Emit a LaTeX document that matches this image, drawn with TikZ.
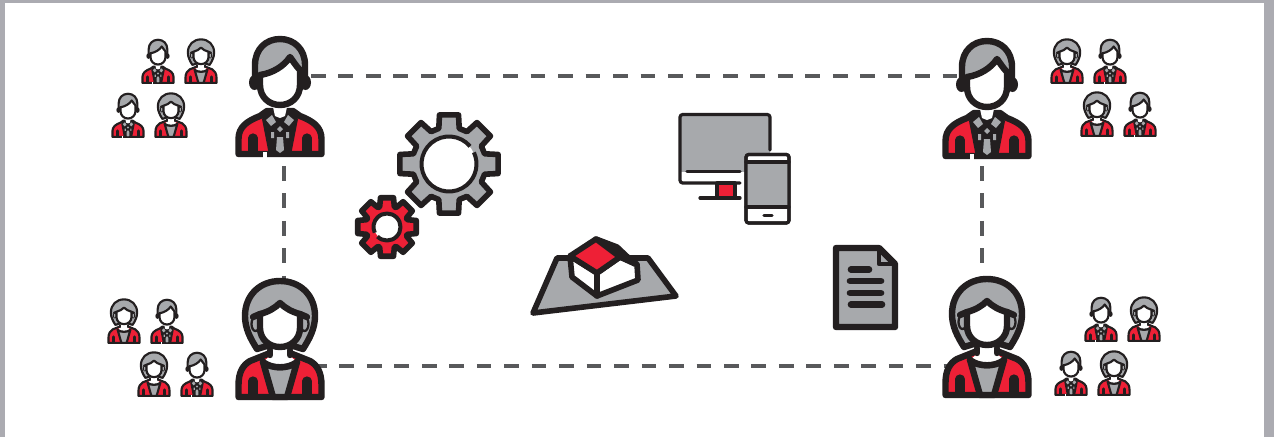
\documentclass[tikz,border=0pt]{standalone}
\usepackage{xcolor}
\definecolor{iconred}{HTML}{EE2036}
\definecolor{icongray}{HTML}{A7A9AC}
\definecolor{iconblack}{HTML}{231F20}
\definecolor{dashgray}{HTML}{58595B}
\definecolor{framegray}{HTML}{ABABB1}
\begin{document}
\begin{tikzpicture}[x=.75pt,y=.75pt,line join=round,
    iconline/.style={draw=iconblack,line cap=round},
    bigicon/.style={line width=4.8pt},
    smallicon/.style={scale=.375,line width=1.6pt},
    linkline/.style={draw=dashgray,line width=2.7pt,dash pattern=on 11pt off 9.6pt},
    gearline/.style={draw=iconblack,line width=4.2pt},
    pics/man/.style={code={
        \draw[iconline,fill=iconred] (-41.5,3) -- (-41.5,18) .. controls (-41.5,30) and (-33,36) .. (-20,41) -- (-13,46) -- (13,46) -- (20,41) .. controls (33,36) and (41.5,30) .. (41.5,18) -- (41.5,3) -- cycle;
        \fill[iconblack] (-18,38) -- (-11,2) -- (11,2) -- (18,38) -- (13,47) -- (-13,47) -- cycle;
        \draw[iconline,line width=1.2*\pgflinewidth] (-27,5) -- (-27,19) (27,5) -- (27,19);
        \fill[white] (-17,-1) rectangle (-13,5);
        \fill[icongray] (-14,37) -- (-8,42) -- (-4,35) -- (-9,31) -- cycle (14,37) -- (8,42) -- (4,35) -- (9,31) -- cycle;
        \fill[icongray] (0,31) -- (3,28) -- (0,25) -- (-3,28) -- cycle (-3,20) -- (3,20) -- (4,7) -- (0,4) -- (-4,7) -- cycle;
        \fill[icongray] (-9,25) rectangle (-6,19) (6,25) rectangle (9,19);
        \fill[white] (-7,50) -- (7,50) -- (5,41) -- (0,39) -- (-5,41) -- cycle;
        \fill[iconblack] (-25.5,74.5) ellipse [x radius=5.5,y radius=7.5] (25.5,74.5) ellipse [x radius=5.5,y radius=7.5];
        \draw[iconline,fill=icongray] (-25,80) -- (-25,92) .. controls (-25,108) and (-14,118) .. (0,118) .. controls (14,118) and (25,108) .. (25,92) -- (25,80) -- cycle;
        \draw[iconline,fill=white] (-20,82) -- (-20,72) .. controls (-20,60) and (-11,52) .. (0,52) .. controls (11,52) and (20,60) .. (20,72) -- (20,87) .. controls (16,91) and (13,96) .. (10,100) .. controls (4,91) and (-7,84) .. (-20,82) -- cycle;
    }},
    pics/woman/.style={code={
        \draw[iconline,fill=iconred] (-41.5,3) -- (-41.5,15) .. controls (-41.5,28) and (-37,35) .. (-30,39) -- (-10,47) -- (10,47) -- (30,39) .. controls (37,35) and (41.5,28) .. (41.5,15) -- (41.5,3) -- cycle;
        \draw[iconline,fill=icongray] (-17,38) -- (-7,3) -- (7,3) -- (17,38) .. controls (8,31) and (-8,31) .. (-17,38) -- cycle;
        \draw[iconline,line width=1.2*\pgflinewidth] (-27,5) -- (-27,19) (27,5) -- (27,19);
        \draw[iconline,fill=icongray] (-23,51) .. controls (-30,62) and (-35,72) .. (-35,84) .. controls (-35,105) and (-20,119) .. (0,119) .. controls (20,119) and (35,105) .. (35,84) .. controls (35,72) and (30,62) .. (23,51) -- (10,55) -- (-10,55) -- cycle;
        \draw[iconline,line width=.6*\pgflinewidth,fill=icongray] (-24.5,76) ellipse [x radius=4,y radius=7] (24.5,76) ellipse [x radius=4,y radius=7];
        \draw[iconline] (-27,83) -- (-20,86) (27,83) -- (20,86);
        \fill[white] (-10,56) -- (-10,44) -- (-17,38) .. controls (-8,31) and (8,31) .. (17,38) -- (10,44) -- (10,56) -- cycle;
        \draw[iconline] (-17,38) .. controls (-8,31) and (8,31) .. (17,38);
        \draw[iconline] (-10,45) -- (-10,50) (10,45) -- (10,50);
        \draw[iconline,fill=white] (-20,86) -- (-20,72) .. controls (-20,61) and (-11,53) .. (0,53) .. controls (11,53) and (20,61) .. (20,72) -- (20,86) .. controls (12,88) and (5,92) .. (0,97) .. controls (-5,92) and (-12,88) .. (-20,86) -- cycle;
    }},
    pics/gear/.style n args={6}{code={
        \draw[gearline,fill=#6] ({0-#3}:#2) \foreach \a in {0,45,...,315} {
            -- ({\a-#3}:#2) -- ({\a-#4}:#1) -- ({\a+#4}:#1) -- ({\a+#3}:#2) } -- cycle;
        \fill[white] (0,0) circle (#5);
    }}]

\useasboundingbox (0,0) rectangle (1274,-437);
\fill[framegray] (0,0) rectangle (1274,-437);
\fill[white] (5,-2.5) rectangle (1264,-437);

% corners of the dashed frame
\coordinate (topleft) at (311,-76);
\coordinate (topright) at (957,-76);
\coordinate (botleft) at (312,-366);
\coordinate (botright) at (957,-366);
\coordinate (leftup) at (284,-166);
\coordinate (leftdown) at (284,-285);
\coordinate (rightup) at (982,-166);
\coordinate (rightdown) at (982,-285);

\draw[linkline] (topleft) -- (topright);
\draw[linkline] (botleft) -- (botright);
\draw[linkline] (leftup) -- (leftdown);
\draw[linkline] (rightup) -- (rightdown);

\pic[bigicon] at (280,-157) {man};
\pic[bigicon] at (987,-159) {man};
\pic[bigicon] at (280,-400) {woman};
\pic[bigicon] at (987,-398) {woman};

\foreach \who/\x/\y in {man/158/-84,woman/201/-84,man/128/-138,woman/171/-138,
    woman/124/-344,man/167/-344,woman/154/-397,man/197/-397,
    woman/1067/-84,man/1110/-84,woman/1097/-137,man/1140/-137,
    man/1101/-342,woman/1144/-342,man/1071/-396,woman/1114/-396}
  \pic[smallicon] at (\x,\y) {\who};

% gears
\pic at (449,-164) {gear={50}{37}{16}{11}{27}{icongray}};
\draw[iconblack,line width=3pt] (449,-164) ++(40:27.5) arc[start angle=40,end angle=385,radius=27.5];
\pic at (387,-227) {gear={30}{21.5}{20}{12.5}{13}{iconred}};
\draw[iconblack,line width=3pt] (387,-227) ++(225:13.5) arc[start angle=225,end angle=565,radius=13.5];

% land and house
\draw[iconline,line width=4.2pt,fill=icongray] (557,-258) -- (648,-258) -- (676,-296) -- (533,-313) -- cycle;
\draw[iconline,line width=4.2pt,fill=white] (570,-256) -- (572,-277) -- (597,-296) -- (638,-280) -- (637,-264) -- (620,-257) -- (597,-273) -- cycle;
\draw[iconline,line width=4.2pt] (597,-273) -- (597,-296);
\draw[iconline,line width=4.2pt,fill=iconblack] (596,-239) -- (617,-247) -- (635,-264) -- (620,-257) -- cycle;
\draw[iconline,line width=4.2pt,fill=iconred] (596,-239) -- (570,-256) -- (597,-273) -- (620,-257) -- cycle;

% monitor and phone
\fill[icongray] (680,-114.5) rectangle (770,-172);
\draw[iconline,line width=2.4pt,fill=iconred] (717,-183) rectangle (735,-198);
\draw[iconline,line width=2.4pt,rounded corners=2pt] (770,-150) -- (770,-114.5) -- (680,-114.5) -- (680,-183) -- (740,-183);
\draw[iconline,line width=2.4pt] (687,-171.5) -- (740,-171.5);
\draw[iconline,line width=2.4pt] (700,-198) -- (740,-198);
\draw[iconline,line width=2.4pt,fill=white,rounded corners=2pt] (746,-154.5) rectangle (789,-223);
\fill[icongray] (746,-162) rectangle (789,-207);
\draw[iconline,line width=2.4pt] (746,-162) -- (789,-162) (746,-207) -- (789,-207) (764,-215.5) -- (772,-215.5);
\draw[iconline,line width=2.4pt,rounded corners=2pt] (746,-154.5) rectangle (789,-223);

% document
\draw[iconline,line width=4.8pt,fill=icongray] (836,-248) -- (879,-248) -- (895,-264) -- (895,-327) -- (836,-327) -- cycle;
\draw[iconline,line width=3.6pt] (879,-248) -- (879,-264) -- (895,-264);
\draw[iconline,line width=5pt] (851,-269.5) -- (869,-269.5) (850,-281) -- (881,-281) (850,-293) -- (881,-293) (851,-304.5) -- (882,-304.5);
\end{tikzpicture}
\end{document}
